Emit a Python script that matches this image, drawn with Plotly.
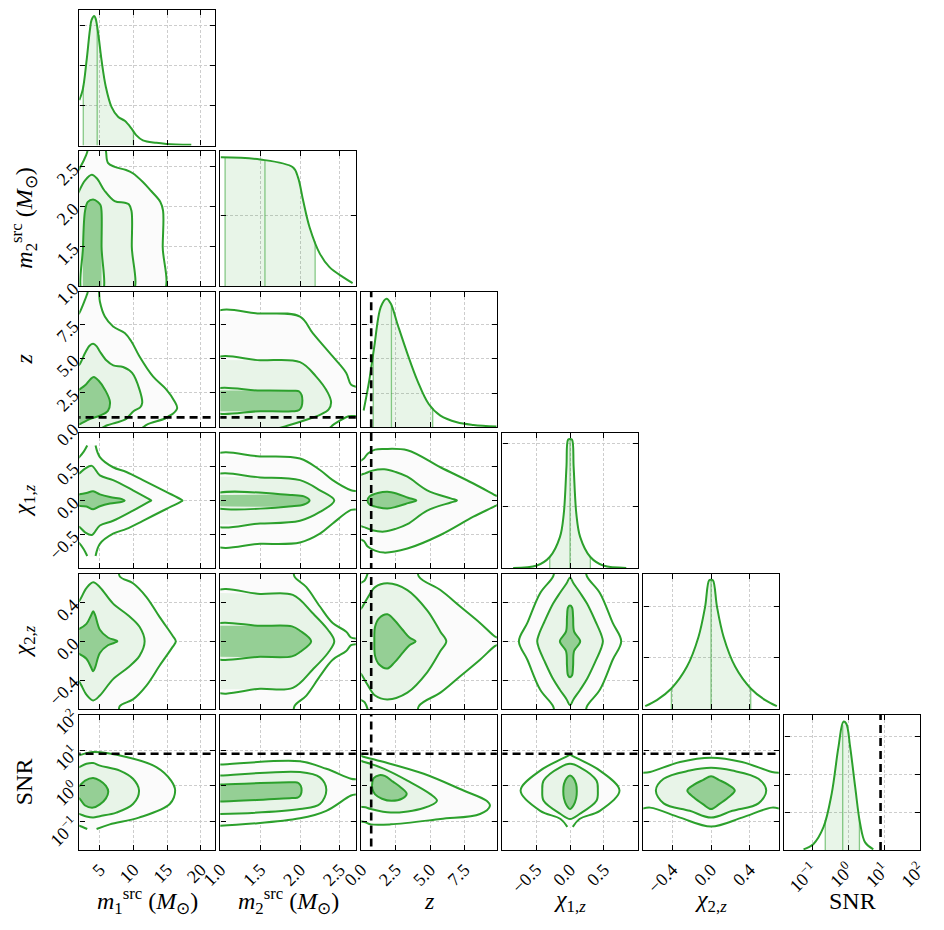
import numpy as np
import plotly.graph_objects as go

# ---------------- styling constants ----------------
GREEN = '#2ca02c'
INNER_FILL = 'rgb(149,207,149)'
MID_FILL = 'rgb(232,244,232)'
OUTER_FILL = 'rgb(251,251,251)'
DIAG_FILL = 'rgba(44,160,44,0.11)'
QLINE = 'rgba(44,160,44,0.55)'
FONT = 'Liberation Serif'
TICK_SIZE = 18

# ---------------- data ----------------
VARS = ['m1', 'm2', 'z', 'c1', 'c2', 'snr']
LABELS = ['<i>m</i><sub>1</sub><sup>src</sup> (<i>M</i><sub>⊙</sub>)',
          '<i>m</i><sub>2</sub><sup>src</sup> (<i>M</i><sub>⊙</sub>)',
          '<i>z</i>', '<i>χ</i><sub>1,<i>z</i></sub>', '<i>χ</i><sub>2,<i>z</i></sub>', 'SNR']
RANGES = {'m1': [1.94, 22.1], 'm2': [1.0, 2.7], 'z': [0.0, 9.85],
          'c1': [-1.0, 1.0], 'c2': [-0.7, 0.7], 'snr': [-1.8, 2.005]}
TICKVALS = {'m1': [5, 10, 15, 20], 'm2': [1.0, 1.5, 2.0, 2.5], 'z': [0.0, 2.5, 5.0, 7.5],
            'c1': [-0.5, 0.0, 0.5], 'c2': [-0.4, 0.0, 0.4], 'snr': [0.1, 1, 10, 100]}
TICKTEXT = {'m1': ['5', '10', '15', '20'], 'm2': ['1.0', '1.5', '2.0', '2.5'],
            'z': ['0.0', '2.5', '5.0', '7.5'], 'c1': ['−0.5', '0.0', '0.5'],
            'c2': ['−0.4', '0.0', '0.4'],
            'snr': ['10<sup>−1</sup>', '10<sup>0</sup>', '10<sup>1</sup>', '10<sup>2</sup>']}

# injected / threshold values (dashed lines)
z_true = 0.72
snr_threshold = 8.0

# 1D marginals (x in data units; SNR in log10), density in arbitrary units
m1_curve_x = [1.94, 2.44, 3.03, 3.52, 3.77, 4.16, 4.36, 4.75, 5.25, 5.89, 6.73, 7.71, 8.70, 9.69, 10.4, 11.4, 13.4, 14.9, 18.6]
m1_curve_y = [1.14, 1.39, 2.14, 2.90, 3.15, 3.25, 3.19, 2.81, 2.14, 1.47, 0.97, 0.72, 0.62, 0.43, 0.26, 0.13, 0.067, 0.04, 0.017]
m1_quant = [2.53, 4.6, 10.0]

m2_curve_x = [1.005, 1.5, 1.91, 1.975, 2.04, 2.12, 2.25, 2.37, 2.54, 2.66]
m2_curve_y = [1.81, 1.78, 1.67, 1.53, 1.20, 0.83, 0.456, 0.27, 0.13, 0.047]
m2_quant = [1.06, 1.56, 2.19]

z_curve_x = [0.17, 0.58, 0.94, 1.42, 1.83, 2.14, 2.62, 3.35, 4.07, 4.9, 5.75, 6.95, 8.15, 9.83]
z_curve_y = [0.49, 1.37, 2.34, 3.51, 3.75, 3.61, 3.02, 2.15, 1.37, 0.68, 0.34, 0.146, 0.068, 0.02]
z_quant = [0.87, 2.19, 5.19]

c1_curve_x = [-0.84, -0.49, -0.30, -0.15, -0.093, -0.053, -0.029, 0.0, 0.029, 0.053, 0.093, 0.15, 0.30, 0.49, 0.83]
c1_curve_y = [0.005, 0.043, 0.18, 0.5, 0.875, 1.63, 2.07, 2.08, 2.07, 1.63, 0.875, 0.5, 0.18, 0.043, 0.005]
c1_quant = [-0.30, 0.0, 0.30]

c2_curve_x = [-0.68, -0.56, -0.41, -0.25, -0.13, -0.062, -0.02, 0.0, 0.02, 0.062, 0.13, 0.25, 0.41, 0.56, 0.68]
c2_curve_y = [0.058, 0.174, 0.40, 0.82, 1.40, 1.98, 2.50, 2.51, 2.50, 1.98, 1.40, 0.82, 0.40, 0.174, 0.058]
c2_quant = [-0.41, 0.0, 0.41]

snr_curve_log10x = [-1.26, -0.98, -0.70, -0.47, -0.28, -0.14, -0.06, 0.05, 0.19, 0.33, 0.47, 0.70]
snr_curve_y = [0.018, 0.16, 0.60, 1.48, 2.71, 3.38, 3.33, 2.71, 1.66, 0.69, 0.20, 0.018]
snr_quant_log10 = [-0.65, -0.16, 0.31]

DIAG_YMAX = {'m1': 3.4, 'm2': 1.9, 'z': 3.95, 'c1': 2.18, 'c2': 2.63, 'snr': 3.57}
DIAG_YTICKS = {'m1': [1, 2, 3], 'm2': [1], 'z': [1, 2, 3], 'c1': [1, 2], 'c2': [1, 2], 'snr': [1, 2, 3]}

# 2D credible contours (x, y); SNR coordinates in log10; None = break in the outline
m1_m2 = dict(
    inner=[(2.5, 0.9), (2.5, 1.5), (2.8, 1.95), (3.2, 2.06), (4.0, 2.09), (4.7, 2.06), (5.1, 2.02), (5.25, 1.94), (5.25, 1.5), (5.25, 0.9)],
    middle=[(1.5, 2.1), (1.94, 2.2), (2.8, 2.33), (3.8, 2.4), (4.6, 2.35), (5.7, 2.2), (7.2, 2.07), (8.7, 2.05), (9.3, 2.03), (9.7, 1.95), (9.75, 1.5), (9.75, 0.9), (1.5, 0.9)],
    outer=[(1.5, 2.4), (1.98, 2.48), (2.6, 2.58), (3.1, 2.68), (3.5, 2.85), (5.5, 2.85), (5.9, 2.7), (6.2, 2.55), (7.2, 2.5), (8.9, 2.46), (9.9, 2.42), (11.4, 2.31), (12.6, 2.2), (14.0, 2.06), (14.4, 1.95), (14.35, 1.5), (14.3, 0.9), (1.5, 0.9)])

m1_z = dict(
    inner=[(1.5, 0.2), (1.5, 2.6), (1.94, 2.75), (2.8, 3.05), (3.6, 3.5), (4.1, 3.66), (4.8, 3.4), (5.8, 2.7), (6.5, 1.85), (6.2, 1.2), (5.0, 0.85), (3.5, 0.6), (2.3, 0.3), (1.94, 0.22)],
    middle=[(1.5, 4.4), (1.94, 4.55), (2.8, 5.4), (3.5, 5.95), (4.0, 6.07), (4.5, 5.9), (5.0, 5.51), (6.0, 4.85), (7.0, 4.5), (8.45, 4.38), (9.8, 3.95), (10.9, 2.74), (11.3, 1.77), (11.0, 1.45), (10.0, 1.17), (9.3, 0.8), (8.8, 0.57), (7.5, 0.35), (6.1, 0.15), (5.0, -0.1), (1.5, -0.1)],
    outer=[(1.5, 8.0), (1.94, 8.3), (2.78, 9.26), (3.12, 9.7), (3.5, 10.2), (4.6, 10.2), (4.85, 9.9), (5.0, 9.14), (5.74, 8.05), (6.97, 7.33), (8.7, 6.85), (9.69, 6.24), (10.9, 5.15), (12.9, 3.7), (14.9, 2.74), (16.1, 1.9), (16.5, 1.4), (15.9, 1.0), (15.2, 0.8), (14.7, 0.64), (12.0, 0.2), (11.0, -0.1), (1.5, -0.1)])

m2_z = dict(
    inner=[(0.9, 2.67), (1.5, 2.67), (1.9, 2.65), (1.99, 2.6), (2.03, 1.95), (1.99, 1.25), (1.9, 1.17), (1.5, 1.17), (0.9, 1.17)],
    middle=[(0.9, 4.9), (1.5, 4.87), (2.0, 4.74), (2.2, 3.7), (2.35, 2.5), (2.39, 1.8), (2.36, 1.3), (2.25, 0.9), (2.09, 0.57), (1.86, 0.15), (1.7, -0.1), (0.9, -0.1)],
    outer=[(0.9, 8.22), (1.5, 8.27), (2.0, 8.05), (2.16, 6.85), (2.41, 5.15), (2.58, 3.95), (2.64, 3.1), (2.75, 2.8), (2.75, 0.9), (2.61, 0.8), (2.42, 0.2), (2.35, -0.1), (0.9, -0.1)])

m1_c1 = dict(
    inner=[(1.5, 0.085), (1.94, 0.09), (3.0, 0.11), (4.0, 0.135), (5.0, 0.09), (6.5, 0.05), (8.3, 0.02), (8.7, 0.0), (8.3, -0.02), (6.5, -0.045), (5.0, -0.085), (4.0, -0.13), (3.0, -0.09), (1.94, -0.08), (1.5, -0.08)],
    middle=[(1.5, 0.38), (1.94, 0.40), (2.8, 0.47), (3.8, 0.51), (5.0, 0.37), (6.97, 0.30), (9.93, 0.15), (12.4, 0.015), (12.65, 0.0), (12.4, -0.015), (9.93, -0.15), (6.97, -0.30), (5.0, -0.37), (3.8, -0.51), (2.8, -0.47), (1.94, -0.39), (1.5, -0.37)],
    outer=[(1.5, 0.6), (1.94, 0.64), (2.6, 0.72), (3.12, 0.81), None, (4.36, 0.81), (5.0, 0.64), (6.97, 0.49), (8.95, 0.42), (11.4, 0.30), (14.8, 0.13), (17.0, 0.02), (17.3, 0.0), (17.0, -0.02), (14.8, -0.13), (11.4, -0.30), (8.95, -0.42), (6.97, -0.49), (5.0, -0.64), (4.36, -0.82), None, (3.12, -0.82), (2.6, -0.72), (1.94, -0.63), (1.5, -0.6)])

m2_c1 = dict(
    inner=[(0.9, 0.08), (1.9, 0.08), (2.05, 0.06), (2.12, 0.0), (2.05, -0.06), (1.9, -0.085), (0.9, -0.085)],
    middle=[(0.9, 0.35), (1.5, 0.34), (2.0, 0.30), (2.25, 0.15), (2.43, 0.0), (2.25, -0.17), (2.0, -0.3), (1.5, -0.34), (0.9, -0.35)],
    outer=[(0.9, 0.65), (1.5, 0.65), (2.0, 0.62), (2.25, 0.45), (2.41, 0.30), (2.64, 0.15), (2.75, 0.12), (2.75, -0.12), (2.64, -0.14), (2.41, -0.34), (2.25, -0.49), (2.0, -0.62), (1.5, -0.64), (0.9, -0.64)])

z_c1 = dict(
    inner=[(0.45, 0.0), (0.6, 0.06), (1.2, 0.11), (1.9, 0.13), (2.6, 0.1), (3.4, 0.04), (4.0, 0.0), (3.4, -0.04), (2.6, -0.09), (1.9, -0.12), (1.2, -0.1), (0.6, -0.06)],
    middle=[(-0.2, 0.35), (0.3, 0.4), (0.8, 0.44), (1.66, 0.46), (2.5, 0.42), (3.35, 0.35), (4.79, 0.15), (6.5, 0.03), (6.95, 0.0), (6.5, -0.03), (4.79, -0.15), (3.35, -0.35), (2.5, -0.42), (1.66, -0.46), (0.8, -0.44), (0.3, -0.4), (-0.2, -0.35)],
    outer=[(-0.2, 0.55), (0.2, 0.62), (0.46, 0.69), (1.0, 0.75), (1.66, 0.76), (3.35, 0.74), (5.75, 0.49), (8.15, 0.25), (9.71, 0.08), (10.0, 0.05), (10.0, -0.05), (9.71, -0.084), (8.15, -0.24), (5.75, -0.51), (3.35, -0.71), (1.66, -0.77), (1.0, -0.74), (0.46, -0.68), (0.2, -0.6), (-0.2, -0.55)])

m1_c2 = dict(
    inner=[(1.5, 0.12), (1.94, 0.13), (3.0, 0.18), (3.7, 0.27), (4.0, 0.31), (4.3, 0.27), (5.0, 0.12), (6.2, 0.04), (7.6, 0.0), (6.2, -0.04), (5.0, -0.12), (4.3, -0.27), (4.0, -0.31), (3.7, -0.27), (3.0, -0.18), (1.94, -0.13), (1.5, -0.12)],
    middle=[(1.5, 0.4), (1.94, 0.42), (3.0, 0.55), (4.0, 0.61), (5.0, 0.56), (6.97, 0.39), (9.19, 0.27), (10.9, 0.15), (11.66, 0.0), (10.9, -0.15), (9.19, -0.27), (6.97, -0.39), (5.0, -0.56), (4.0, -0.61), (3.0, -0.55), (1.94, -0.42), (1.5, -0.4)],
    outer=[(1.5, 0.8), (7.6, 0.8), (7.96, 0.67), (9.93, 0.6), (11.9, 0.46), (13.9, 0.25), (15.8, 0.06), (16.3, 0.0), (15.8, -0.06), (13.9, -0.25), (11.9, -0.46), (9.93, -0.6), (7.96, -0.67), (7.6, -0.8), (1.5, -0.8)])

m2_c2 = dict(
    inner=[(0.9, 0.16), (1.5, 0.16), (1.9, 0.155), (2.0, 0.11), (2.14, 0.0), (2.0, -0.11), (1.9, -0.155), (1.5, -0.16), (0.9, -0.16)],
    middle=[(0.9, 0.5), (1.5, 0.49), (1.91, 0.48), (2.16, 0.29), (2.35, 0.12), (2.43, 0.0), (2.35, -0.12), (2.16, -0.29), (1.91, -0.48), (1.5, -0.49), (0.9, -0.5)],
    outer=[(0.9, 0.8), (1.9, 0.8), (1.93, 0.67), (2.08, 0.56), (2.25, 0.36), (2.41, 0.19), (2.58, 0.10), (2.64, 0.04), (2.75, 0.02), (2.75, -0.02), (2.64, -0.04), (2.58, -0.10), (2.41, -0.19), (2.25, -0.36), (2.08, -0.56), (1.93, -0.67), (1.9, -0.8), (0.9, -0.8)])

z_c2 = dict(
    inner=[(0.95, 0.0), (1.0, 0.15), (1.3, 0.24), (1.9, 0.28), (2.4, 0.22), (3.0, 0.12), (3.5, 0.04), (3.95, 0.0), (3.5, -0.04), (3.0, -0.12), (2.4, -0.22), (1.9, -0.28), (1.3, -0.24), (1.0, -0.15)],
    middle=[(-0.2, 0.3), (0.05, 0.35), (0.46, 0.45), (1.0, 0.56), (1.9, 0.6), (3.35, 0.53), (4.79, 0.32), (5.75, 0.1), (6.18, 0.0), (5.75, -0.1), (4.79, -0.32), (3.35, -0.53), (1.9, -0.6), (1.0, -0.56), (0.46, -0.45), (0.05, -0.35), (-0.2, -0.3)],
    outer=[(-0.2, 0.58), (0.25, 0.63), (0.5, 0.72), (0.7, 0.85), (4.0, 0.85), (4.18, 0.67), (5.75, 0.53), (7.19, 0.36), (8.63, 0.19), (9.71, 0.05), (10.0, 0.03), (10.0, -0.03), (9.71, -0.05), (8.63, -0.19), (7.19, -0.36), (5.75, -0.53), (4.18, -0.67), (4.0, -0.85), (0.7, -0.85), (0.5, -0.72), (0.25, -0.63), (-0.2, -0.58)])

c1_c2 = dict(
    inner=[(0.0, 0.37), (0.03, 0.35), (0.045, 0.25), (0.06, 0.1), (0.15, 0.0), (0.06, -0.1), (0.045, -0.25), (0.03, -0.35), (0.0, -0.37), (-0.03, -0.35), (-0.045, -0.25), (-0.06, -0.1), (-0.15, 0.0), (-0.06, 0.1), (-0.045, 0.25), (-0.03, 0.35)],
    middle=[(0.0, 0.66), (0.05, 0.6), (0.15, 0.5), (0.25, 0.39), (0.38, 0.2), (0.46, 0.07), (0.485, 0.0), (0.46, -0.07), (0.38, -0.2), (0.25, -0.39), (0.15, -0.5), (0.05, -0.6), (0.0, -0.66), (-0.05, -0.6), (-0.15, -0.5), (-0.25, -0.39), (-0.38, -0.2), (-0.46, -0.07), (-0.485, 0.0), (-0.46, 0.07), (-0.38, 0.2), (-0.25, 0.39), (-0.15, 0.5), (-0.05, 0.6)],
    outer=[(0.2, 0.8), (0.25, 0.67), (0.44, 0.5), (0.63, 0.19), (0.755, 0.0), (0.63, -0.19), (0.44, -0.5), (0.25, -0.67), (0.2, -0.8), (-0.2, -0.8), (-0.25, -0.67), (-0.44, -0.5), (-0.63, -0.19), (-0.755, 0.0), (-0.63, 0.19), (-0.44, 0.5), (-0.25, 0.67), (-0.2, 0.8)])

m1_snr = dict(
    inner=[(1.5, -0.02), (1.94, 0.0), (2.8, 0.15), (4.0, 0.22), (5.0, 0.15), (5.9, 0.0), (6.25, -0.16), (5.9, -0.35), (5.0, -0.52), (4.0, -0.61), (2.8, -0.55), (1.94, -0.35), (1.5, -0.33)],
    middle=[(1.5, 0.5), (1.94, 0.53), (3.0, 0.62), (4.0, 0.64), (5.0, 0.57), (7.96, 0.43), (9.93, 0.2), (10.83, -0.13), (9.93, -0.51), (7.46, -0.75), (5.0, -0.85), (4.0, -0.89), (3.0, -0.86), (1.94, -0.79), (1.5, -0.77)],
    outer=[(1.5, 0.84), (1.94, 0.86), (4.0, 0.95), (8.95, 0.81), (13.4, 0.53), (15.6, 0.15), (16.2, -0.13), (15.4, -0.51), (10.8, -0.89), (6.48, -1.08), (4.51, -1.21), None, (3.12, -1.21), (2.5, -1.16), (1.94, -1.12), (1.5, -1.1)])

m2_snr = dict(
    inner=[(0.9, 0.04), (1.0, 0.04), (1.9, 0.1), (1.98, 0.08), (2.02, -0.12), (1.98, -0.32), (1.9, -0.34), (1.0, -0.44), (0.9, -0.44)],
    middle=[(0.9, 0.29), (1.0, 0.29), (2.0, 0.39), (2.25, 0.24), (2.33, -0.11), (2.25, -0.51), (2.0, -0.65), (1.0, -0.79), (0.9, -0.79)],
    outer=[(0.9, 0.6), (1.0, 0.6), (2.0, 0.69), (2.33, 0.48), (2.64, 0.2), (2.75, 0.15), (2.75, -0.2), (2.64, -0.27), (2.33, -0.7), (2.0, -0.91), (1.0, -1.12), (0.9, -1.12)])

z_snr = dict(
    inner=[(0.8, 0.1), (0.9, 0.22), (1.3, 0.3), (1.7, 0.28), (2.3, 0.12), (2.9, -0.05), (3.3, -0.22), (3.0, -0.35), (2.2, -0.42), (1.5, -0.36), (1.0, -0.24), (0.8, -0.08)],
    middle=[(-0.2, 0.7), (0.22, 0.67), (1.66, 0.48), (3.35, 0.15), (5.02, -0.23), (5.5, -0.42), (4.54, -0.62), (2.14, -0.75), (0.7, -0.65), (0.3, -0.6), (-0.2, -0.55)],
    outer=[(-0.2, 0.85), (0.22, 0.81), (1.66, 0.67), (4.54, 0.34), (7.43, -0.13), (9.11, -0.42), (9.35, -0.56), (8.63, -0.79), (5.75, -0.93), (2.14, -1.08), (0.7, -1.08), (0.3, -1.02), (-0.2, -0.95)])

c1_snr = dict(
    inner=[(0.0, 0.29), (0.05, 0.22), (0.09, 0.05), (0.10, -0.15), (0.09, -0.35), (0.05, -0.55), (0.0, -0.65), (-0.05, -0.55), (-0.09, -0.35), (-0.10, -0.15), (-0.09, 0.05), (-0.05, 0.22)],
    middle=[(0.0, 0.62), (0.14, 0.53), (0.39, 0.15), (0.41, -0.13), (0.39, -0.42), (0.14, -0.79), (0.0, -0.93), (-0.14, -0.79), (-0.39, -0.42), (-0.41, -0.13), (-0.39, 0.15), (-0.14, 0.53)],
    outer=[(0.0, 0.88), (0.1, 0.78), (0.44, 0.43), (0.73, -0.13), (0.44, -0.7), (0.14, -0.93), (0.04, -1.15), None, (-0.04, -1.15), (-0.14, -0.93), (-0.44, -0.7), (-0.73, -0.13), (-0.44, 0.43), (-0.1, 0.78)])

c2_snr = dict(
    inner=[(-0.245, -0.13), (-0.18, 0.03), (-0.08, 0.17), (0.0, 0.27), (0.08, 0.17), (0.18, 0.03), (0.245, -0.13), (0.18, -0.32), (0.08, -0.52), (0.0, -0.65), (-0.08, -0.52), (-0.18, -0.32)],
    middle=[(0.0, 0.51), (-0.22, 0.43), (-0.49, 0.2), (-0.57, -0.13), (-0.49, -0.49), (-0.22, -0.7), (0.0, -0.89), (0.22, -0.7), (0.49, -0.49), (0.57, -0.13), (0.49, 0.2), (0.22, 0.43)],
    outer=[(0.0, 0.79), (-0.32, 0.67), (-0.63, 0.39), (-0.8, 0.3), (-0.8, -0.65), (-0.63, -0.61), (-0.32, -0.89), (0.0, -1.14), (0.32, -0.89), (0.63, -0.61), (0.8, -0.65), (0.8, 0.3), (0.63, 0.39), (0.32, 0.67)])

CONTOURS = {('m1', 'm2'): m1_m2, ('m1', 'z'): m1_z, ('m2', 'z'): m2_z,
            ('m1', 'c1'): m1_c1, ('m2', 'c1'): m2_c1, ('z', 'c1'): z_c1,
            ('m1', 'c2'): m1_c2, ('m2', 'c2'): m2_c2, ('z', 'c2'): z_c2, ('c1', 'c2'): c1_c2,
            ('m1', 'snr'): m1_snr, ('m2', 'snr'): m2_snr, ('z', 'snr'): z_snr,
            ('c1', 'snr'): c1_snr, ('c2', 'snr'): c2_snr}

DIAG = {'m1': (m1_curve_x, m1_curve_y, m1_quant),
        'm2': (m2_curve_x, m2_curve_y, m2_quant),
        'z': (z_curve_x, z_curve_y, z_quant),
        'c1': (c1_curve_x, c1_curve_y, c1_quant),
        'c2': (c2_curve_x, c2_curve_y, c2_quant),
        'snr': (snr_curve_log10x, snr_curve_y, snr_quant_log10)}


def conv(var, v):
    if v is None:
        return None
    return 10 ** v if var == 'snr' else v


# ---------------- layout geometry (pixels) ----------------
W, H = 944, 930
LEFT0, COLSTEP, PW = 79.3, 141.0, 135.5
TOP0, ROWSTEP, PH = 10.0, 140.9, 135.5


def xdom(j):
    L = LEFT0 + COLSTEP * j
    return [L / W, (L + PW) / W]


def ydom(i):
    T = TOP0 + ROWSTEP * i
    return [1 - (T + PH) / H, 1 - T / H]


def axis_style():
    return dict(showline=True, linecolor='black', linewidth=1.4, mirror='ticks',
                ticks='inside', ticklen=5, tickwidth=1, tickcolor='black',
                showgrid=True, gridcolor='rgb(205,205,205)', gridwidth=0.8,
                griddash='3px,2px', zeroline=False, ticklabelstandoff=1,
                tickfont=dict(family=FONT, size=TICK_SIZE, color='black'), tickangle=-45)


fig = go.Figure()
layout = {}
lines_later = []

k = 0
for i in range(6):
    for j in range(i + 1):
        k += 1
        xa = 'x' if k == 1 else f'x{k}'
        ya = 'y' if k == 1 else f'y{k}'
        xv = VARS[j]
        xax = axis_style()
        xax.update(domain=xdom(j), anchor=ya, range=RANGES[xv], tickvals=TICKVALS[xv],
                   ticktext=TICKTEXT[xv], showticklabels=(i == 5))
        if xv == 'snr':
            xax['type'] = 'log'
        yax = axis_style()
        if i == j:
            yv = None
            yax.update(domain=ydom(i), anchor=xa, range=[0, DIAG_YMAX[xv]],
                       tickvals=DIAG_YTICKS[xv], showticklabels=False)
        else:
            yv = VARS[i]
            yax.update(domain=ydom(i), anchor=xa, range=RANGES[yv],
                       tickvals=TICKVALS[yv], ticktext=TICKTEXT[yv],
                       showticklabels=(j == 0))
            if yv == 'snr':
                yax['type'] = 'log'
        layout['xaxis' if k == 1 else f'xaxis{k}'] = xax
        layout['yaxis' if k == 1 else f'yaxis{k}'] = yax

        if i == j:
            cx, cy, q = DIAG[xv]
            cx = np.array(cx, dtype=float)
            cy = np.array(cy, dtype=float)
            lo, hi = q[0], q[2]
            inside = (cx > lo) & (cx < hi)
            fx = np.concatenate([[lo], cx[inside], [hi]])
            fy = np.concatenate([[np.interp(lo, cx, cy)], cy[inside], [np.interp(hi, cx, cy)]])
            fig.add_trace(go.Scatter(x=[conv(xv, v) for v in fx], y=fy, mode='lines',
                                     fill='tozeroy', fillcolor=DIAG_FILL,
                                     line=dict(width=0, shape='spline'),
                                     xaxis=xa, yaxis=ya, hoverinfo='skip', showlegend=False))
            for qv in q:
                hq = float(np.interp(qv, cx, cy))
                fig.add_trace(go.Scatter(x=[conv(xv, qv)] * 2, y=[0, hq], mode='lines',
                                         line=dict(color=QLINE, width=1.3),
                                         xaxis=xa, yaxis=ya, hoverinfo='skip', showlegend=False))
            fig.add_trace(go.Scatter(x=[conv(xv, v) for v in cx], y=cy, mode='lines',
                                     line=dict(color=GREEN, width=2, shape='spline'),
                                     xaxis=xa, yaxis=ya, hoverinfo='skip', showlegend=False))
            if xv == 'z':
                lines_later.append((xa, ya, [z_true] * 2, [0, DIAG_YMAX[xv] * 1.2]))
            if xv == 'snr':
                lines_later.append((xa, ya, [snr_threshold] * 2, [0, DIAG_YMAX[xv] * 1.2]))
        else:
            levels = CONTOURS[(xv, yv)]
            for name, fc in [('outer', OUTER_FILL), ('middle', MID_FILL), ('inner', INNER_FILL)]:
                pts = [p for p in levels[name] if p is not None]
                fig.add_trace(go.Scatter(x=[conv(xv, p[0]) for p in pts],
                                         y=[conv(yv, p[1]) for p in pts],
                                         mode='lines', fill='toself', fillcolor=fc,
                                         line=dict(width=0, shape='spline', smoothing=1.0),
                                         xaxis=xa, yaxis=ya, hoverinfo='skip', showlegend=False))
            for name in ['outer', 'middle', 'inner']:
                seq = list(levels[name]) + [levels[name][0]]
                fig.add_trace(go.Scatter(x=[None if p is None else conv(xv, p[0]) for p in seq],
                                         y=[None if p is None else conv(yv, p[1]) for p in seq],
                                         mode='lines', connectgaps=False,
                                         line=dict(color=GREEN, width=2, shape='spline', smoothing=1.0),
                                         xaxis=xa, yaxis=ya, hoverinfo='skip', showlegend=False))
            # truth / threshold lines
            if xv == 'z':
                yr = RANGES[yv]
                ys = [10 ** (yr[0] - 1), 10 ** (yr[1] + 1)] if yv == 'snr' else [yr[0] - 1, yr[1] + 1]
                lines_later.append((xa, ya, [z_true] * 2, ys))
            if yv == 'z':
                xr = RANGES[xv]
                lines_later.append((xa, ya, [xr[0] - 1, xr[1] + 1], [z_true] * 2))
            if yv == 'snr':
                xr = RANGES[xv]
                lines_later.append((xa, ya, [xr[0] - 1, xr[1] + 1], [snr_threshold] * 2))

for xa, ya, xs, ys in lines_later:
    fig.add_trace(go.Scatter(x=xs, y=ys, mode='lines',
                             line=dict(color='black', width=2.6, dash='8px,5px'),
                             xaxis=xa, yaxis=ya, hoverinfo='skip', showlegend=False))

# axis titles as annotations
annotations = []
for j in range(6):
    cx = (LEFT0 + COLSTEP * j + PW / 2) / W
    annotations.append(dict(x=cx, y=1 - 901 / H, xref='paper', yref='paper', text=LABELS[j],
                            showarrow=False, font=dict(family=FONT, size=24, color='black'),
                            xanchor='center', yanchor='middle'))
for i in range(1, 6):
    cy = 1 - (TOP0 + ROWSTEP * i + PH / 2) / H
    annotations.append(dict(x=24 / W, y=cy, xref='paper', yref='paper', text=LABELS[i],
                            showarrow=False, textangle=-90,
                            font=dict(family=FONT, size=24, color='black'),
                            xanchor='center', yanchor='middle'))

fig.update_layout(template='none')
fig.update_layout(**layout)
fig.update_layout(width=W, height=H, margin=dict(l=0, r=0, t=0, b=0),
                  paper_bgcolor='white', plot_bgcolor='white',
                  showlegend=False, annotations=annotations)

fig.write_html('out.html')
